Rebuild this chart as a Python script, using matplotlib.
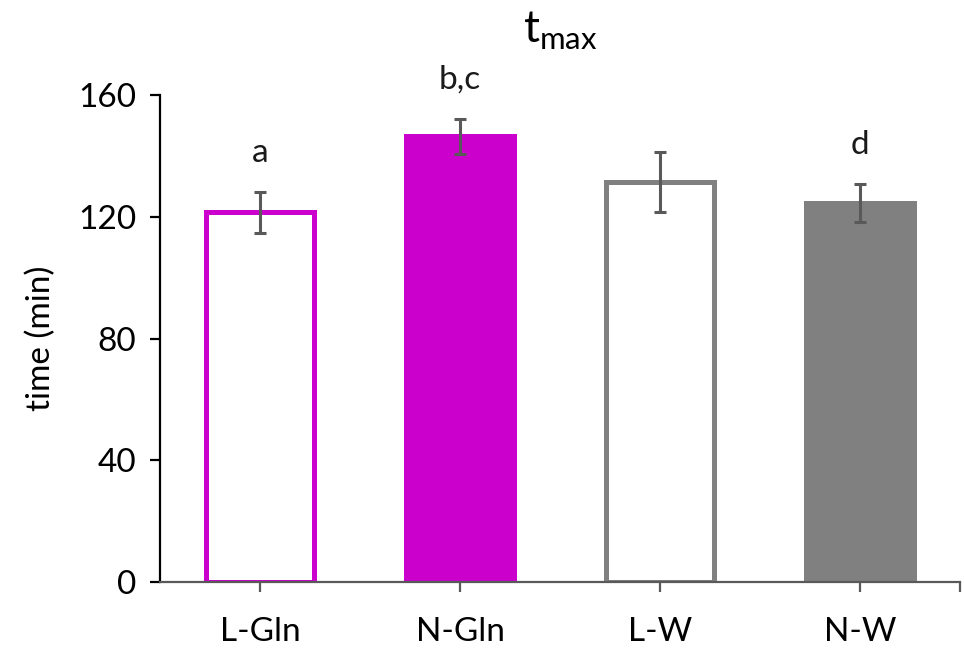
"""t_max bar chart with error bars."""
import matplotlib
matplotlib.use("Agg")
import matplotlib.pyplot as plt
import numpy as np

plt.rcParams.update({
    "font.family": ["Lato", "DejaVu Sans"],
    "font.size": 24,
    "mathtext.fontset": "custom",
    "mathtext.rm": "Lato",
})

groups = ["L-Gln", "N-Gln", "L-W", "N-W"]
tmax = [121.5, 146.5, 131.5, 124.5]
sem = [6.7, 5.8, 9.8, 6.2]
letters = ["a", "b,c", "", "d"]
filled = [False, True, False, True]
colors = ["#cc00cc", "#cc00cc", "#808080", "#808080"]

fig = plt.figure(figsize=(9.64, 6.48), dpi=100)
ax = fig.add_axes([0.166, 0.102, 0.83, 0.751])

x = np.arange(len(groups))
for xi, v, c, f in zip(x, tmax, colors, filled):
    ax.bar(xi, v, width=0.54, color=c if f else "white", edgecolor=c,
           linewidth=3.6, zorder=2)

ax.errorbar(x, tmax, yerr=sem, fmt="none", ecolor="#595959", elinewidth=2.2,
            capsize=4.5, capthick=2.2, zorder=3)

for xi, v, e, s in zip(x, tmax, sem, letters):
    if s:
        ax.text(xi, v + e + 10, s, ha="center", va="baseline", fontsize=24,
                color="#1a1a1a")

ax.set_xlim(-0.5, 3.5)
ax.set_ylim(0, 160)
ax.set_yticks([0, 40, 80, 120, 160])
ax.set_xticks(list(x) + [3.5])
ax.set_xticklabels(groups + [""])
ax.set_ylabel("time (min)", labelpad=16)
ax.set_title(r"t$_{\mathregular{max}}$", fontsize=32, pad=38)

ax.spines["top"].set_visible(False)
ax.spines["right"].set_visible(False)
ax.spines["left"].set_linewidth(1.6)
ax.spines["left"].set_color("black")
ax.spines["bottom"].set_linewidth(1.6)
ax.spines["bottom"].set_color("#595959")
ax.tick_params(axis="y", length=7, width=1.6, color="black", pad=10)
ax.tick_params(axis="x", length=7, width=1.6, color="#595959", pad=18)

fig.savefig("out.png", dpi=100)
